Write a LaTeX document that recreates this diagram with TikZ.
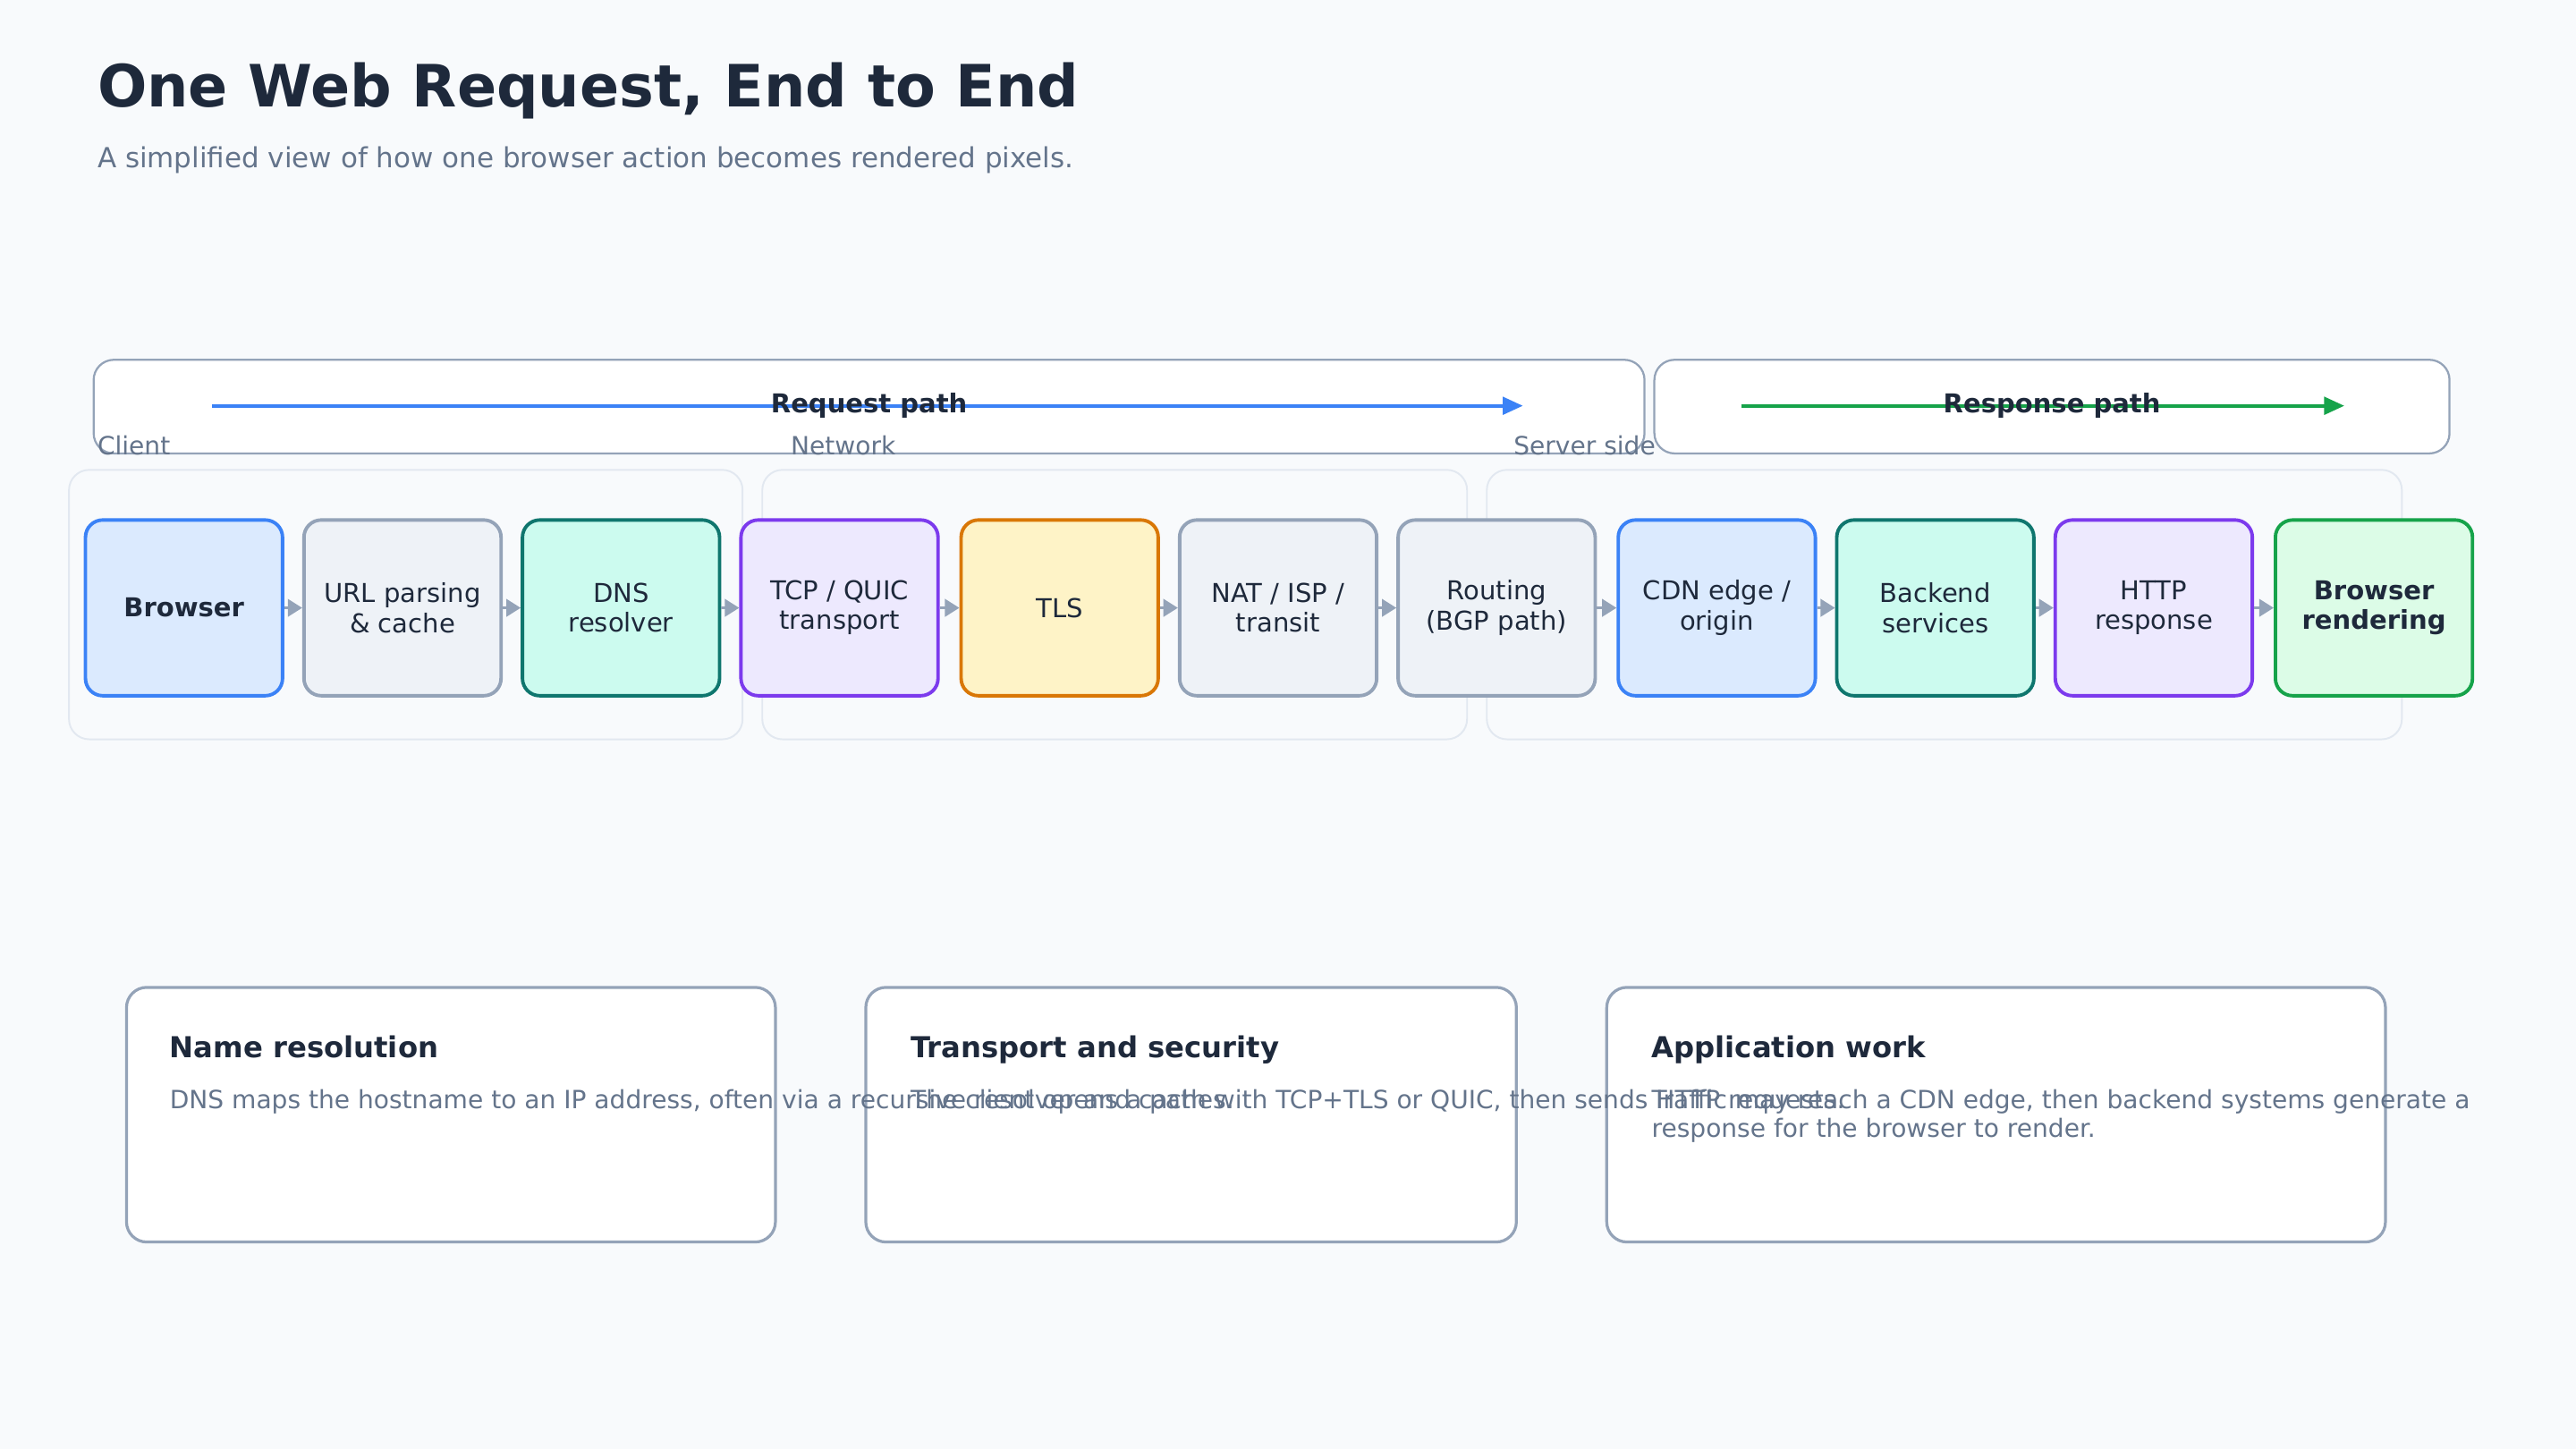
\documentclass[tikz,border=0pt]{standalone}
\usepackage{fontspec}
\setmainfont{DejaVu Sans}
\usetikzlibrary{arrows.meta}
\definecolor{bg}{HTML}{F8FAFC}
\definecolor{ink}{HTML}{1E293B}
\definecolor{mute}{HTML}{64748B}
\definecolor{gline}{HTML}{94A3B8}
\definecolor{glight}{HTML}{E2E8F0}
\definecolor{bF}{HTML}{DBEAFE}\definecolor{bS}{HTML}{3B82F6}
\definecolor{nF}{HTML}{EEF2F7}\definecolor{nS}{HTML}{94A3B8}
\definecolor{tF}{HTML}{CCFBEF}\definecolor{tS}{HTML}{0F766E}
\definecolor{pF}{HTML}{EDE9FE}\definecolor{pS}{HTML}{7C3AED}
\definecolor{oF}{HTML}{FEF3C7}\definecolor{oS}{HTML}{D97706}
\definecolor{gF}{HTML}{DCFCE7}\definecolor{gS}{HTML}{16A34A}
\tikzset{
 stage/.style={draw=#1S,fill=#1F,line width=1.2pt,rounded corners=6pt,minimum width=2.4cm,minimum height=2.14cm,align=center,font=\fontsize{9}{10.3}\selectfont,text=ink},
 grp/.style={draw=glight,line width=0.6pt,rounded corners=7pt},
 band/.style={draw=gline,fill=white,line width=0.7pt,rounded corners=7pt},
 card/.style={draw=gline,fill=white,line width=1pt,rounded corners=7pt},
 flow/.style={-{Triangle[length=5pt,width=6pt]},draw=gline,line width=1pt},
 lbl/.style={font=\fontsize{8.7}{10}\selectfont,text=mute,anchor=west},
}
\begin{document}
\begin{tikzpicture}[x=0.02cm,y=-0.02cm]
\fill[bg] (0,0) rectangle (1568,882);
\useasboundingbox (0,0) rectangle (1568,882);
\node[anchor=base west,inner sep=0,font=\fontsize{20.2}{24}\selectfont\bfseries,text=ink] (title) at (59,65) {One Web Request, End to End};
\node[anchor=base west,inner sep=0,font=\fontsize{9.6}{11}\selectfont,text=mute] (sub) at (59,102) {A simplified view of how one browser action becomes rendered pixels.};
% bands
\draw[band] (57,219) rectangle (1001,276);
\draw[band] (1007,219) rectangle (1491,276);
\coordinate (ra) at (129,247); \coordinate (rb) at (927,247);
\coordinate (sa) at (1060,247); \coordinate (sb) at (1427,247);
\draw[-{Triangle[length=7pt,width=6pt]},draw=bS,line width=1.3pt] (ra) -- (rb);
\draw[-{Triangle[length=7pt,width=6pt]},draw=gS,line width=1.3pt] (sa) -- (sb);
\node[font=\fontsize{9}{10}\selectfont\bfseries,text=ink] (rl) at (529,247) {Request path};
\node[font=\fontsize{9}{10}\selectfont\bfseries,text=ink] (sl) at (1249,247) {Response path};
% groups
\draw[grp] (42,286) rectangle (452,450);
\draw[grp] (464,286) rectangle (893,450);
\draw[grp] (905,286) rectangle (1462,450);
\node[lbl,inner sep=0] (gc) at (59,271) {Client};
\node[lbl,inner sep=0] (gn) at (481,271) {Network};
\node[lbl,inner sep=0] (gs) at (921,271) {Server side};
% stages
\node[stage=b] (s1) at (112,370) {\bfseries Browser};
\node[stage=n] (s2) at (245,370) {URL parsing\\\& cache};
\node[stage=t] (s3) at (378,370) {DNS\\resolver};
\node[stage=p] (s4) at (511,370) {TCP / QUIC\\transport};
\node[stage=o] (s5) at (645,370) {TLS};
\node[stage=n] (s6) at (778,370) {NAT / ISP /\\transit};
\node[stage=n] (s7) at (911,370) {Routing\\(BGP path)};
\node[stage=b] (s8) at (1045,370) {CDN edge /\\origin};
\node[stage=t] (s9) at (1178,370) {Backend\\services};
\node[stage=p] (s10) at (1311,370) {HTTP\\response};
\node[stage=g] (s11) at (1445,370) {\bfseries Browser\\\bfseries rendering};
\foreach \a/\b in {s1/s2,s2/s3,s3/s4,s4/s5,s5/s6,s6/s7,s7/s8,s8/s9,s9/s10,s10/s11}
  \draw[flow] (\a) -- (\b);
% cards
\draw[card] (77,601) rectangle (472,756);
\draw[card] (527,601) rectangle (923,756);
\draw[card] (978,601) rectangle (1452,756);
\node[anchor=base west,inner sep=0,font=\fontsize{10}{12}\selectfont\bfseries,text=ink] (c1t) at (103,644) {Name resolution};
\node[anchor=base west,inner sep=0,font=\fontsize{10}{12}\selectfont\bfseries,text=ink] (c2t) at (554,644) {Transport and security};
\node[anchor=base west,inner sep=0,font=\fontsize{10}{12}\selectfont\bfseries,text=ink] (c3t) at (1005,644) {Application work};
\node[anchor=base west,inner sep=0,font=\fontsize{8.7}{10}\selectfont,text=mute] (c1b) at (103,675) {DNS maps the hostname to an IP address, often via a recursive resolver and caches.};
\node[anchor=base west,inner sep=0,font=\fontsize{8.7}{10}\selectfont,text=mute] (c2b) at (554,675) {The client opens a path with TCP+TLS or QUIC, then sends HTTP requests.};
\node[anchor=north west,inner sep=0,align=left,font=\fontsize{8.7}{9.9}\selectfont,text=mute] (c3b) at (1005,663) {Traffic may reach a CDN edge, then backend systems generate a\\response for the browser to render.};
\end{tikzpicture}
\end{document}
